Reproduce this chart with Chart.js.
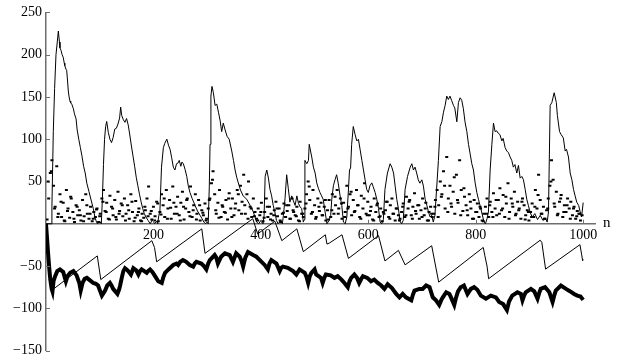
<!DOCTYPE html>
<html><head><meta charset="utf-8">
<script src="https://cdn.jsdelivr.net/npm/chart.js@4/dist/chart.umd.min.js"></script>
<style>html,body{margin:0;padding:0;background:#fff;}canvas{display:block;}</style>
</head><body>
<canvas id="c" width="632" height="363"></canvas>
<script>
// ---- data ----
const xTickVals = [200, 400, 600, 800, 1000];
const yTickVals = [-150, -100, -50, 50, 100, 150, 200, 250];
const xAxisLabel = "n";

const upperN = [0,10,11,13.6,16,18.6,21,23,25,26,28,30,32,34,35,37,38.5,40,41.5,43,44.7,46,48,51,53,56,58,61,64,67,70,73,76,80,84,88,91,94,96,100,103,105,107,109,111,113,116,119,122,125,128,131,134,137,139,141,144,147,150,153,156,159,162,165,168,171,174,177,180,183,186,190,194,198,202,206,208,210,212,215,218.5,221,225,228,231,234,237,240,243,246,248,251,253,255.7,259,262,265,268,272,277.5,282,286.8,290,294,297,300,302,304,305.4,307,309,311.6,314.7,318,321,324,327,330,333,337,341,345.8,349,352,355,358,362,367,373.7,380,386,392,396,400,404,406,408,411,414,417,420,423,426,429,432,436,440,442,445,448,451,454,457.5,460,463.7,467,470,473,476,479,481,482,485.5,488.6,490,494.7,497.8,501,504,507,510,513,516,519.6,523,527,530,532,535,538,541,544,547.5,550.6,553.7,557,560,563,565,567,569,572,575.4,578.6,581.6,584.7,588,591,594,597,600,603,606.5,609,612.7,615.8,619,622,625,628,631,635.6,640.6,643.7,647,650,653,656,659,662,665,668.5,673,678,681,684,687,690,693,696,699.6,702.6,705.8,709,712,715,718,721,724,727,730.5,733.7,737,740,743,746,749,752,755,758.5,761,764.8,767.8,771,774,777,780,783.4,786.5,789.6,792.7,795.7,798.9,802,805,808,811,815,818,821,823.6,826.8,830,833,836,839,842,845,848.6,851,854.7,857.9,861,864,867,870,873,876.4,879.5,882.7,885.8,888.8,892,895,898,901,905,910,915,920,925,930,933,935.4,938.5,941.7,946,950,952,956,959,963,966.5,969,972.6,975.8,979,982,985,988,991.6,994.4,997,1000];
const upperY = [0,0,20,109,160,200,215,228,215,208,205,200,197,190,187,183,181.5,170,157,150,145,143,141.5,136,130,124,111,100,90,80,68,60,48,38,28,18,8,2,0,3,0,30,70,100,115,121,108,100,96,102,112,113,118,125,138,128,123,120,124.5,117,105,92,80,68,55,45,35,26,18,12,8,4,0,5,0,3,0,10,14.5,67,90,95,100,93,88,78,67,63.6,71,72,75,68,73,71,64,56,44.5,37,30,21.7,15,10,6.5,2,0,2,0,44.5,94,151,162.5,155,140,141.5,132,122.6,109,119,112,103.5,100,86,75,63.6,55,48.4,40,33,29,21.7,14,2,0,4,0,10,56,63.6,54,40.7,33,21.7,14,4,0,3,0,10,30,58,42,25.6,33,28,21.7,33,24,20,18,2,5,75,71,75,94,79,67,60,48.4,42,37,33,29,14,0,4,10,29,45,52,58,48,33,21.7,2,0,8,40,63.6,66,94,115,105.5,98,100,88,75,63.6,52,40.7,37,45,48.4,44,37,29,18,2,0,5,40.7,60,71,67,60,44.5,29,18,3,0,4,40.7,56,67,71,63.6,67,60,52,48,52,44.5,29,21.7,14,8,10,2,10,40,75,115,121,132,140,151,147,151,146,140,137,120.6,143.5,149,146,136,120.6,109,94,82.6,71,63.6,48.4,37,29,21.7,14,3,0,6,14,63.6,94,119,109,110,107,105.5,98,101,90,86,84,79,75,67,70,60,69,54,56,52,40.7,29,21.7,14,8,12,5,10,4,6,2,14,140,143.5,155,143.5,128,109,105.5,101.6,86,88,79,60,52,40.7,33,25.6,21.7,14,8,25];

const dotN = [2,5,8,11,14,17,20,23,26,29,32,35,38,41,44,47,50,53,56,59,62,65,68,71,74,77,80,83,86,89,92,95,98,101,104,107,110,113,116,119,122,125,128,131,134,137,140,143,146,149,152,155,158,161,164,167,170,173,176,179,182,185,188,191,194,197,200,203,206,209,212,215,218,221,224,227,230,233,236,239,242,245,248,251,254,257,260,263,266,269,272,275,278,281,284,287,290,293,296,299,302,305,308,311,314,317,320,323,326,329,332,335,338,341,344,347,350,353,356,359,362,365,368,371,374,377,380,383,386,389,392,395,398,401,404,407,410,413,416,419,422,425,428,431,434,437,440,443,446,449,452,455,458,461,464,467,470,473,476,479,482,485,488,491,494,497,500,503,506,509,512,515,518,521,524,527,530,533,536,539,542,545,548,551,554,557,560,563,566,569,572,575,578,581,584,587,590,593,596,599,602,605,608,611,614,617,620,623,626,629,632,635,638,641,644,647,650,653,656,659,662,665,668,671,674,677,680,683,686,689,692,695,698,701,704,707,710,713,716,719,722,725,728,731,734,737,740,743,746,749,752,755,758,761,764,767,770,773,776,779,782,785,788,791,794,797,800,803,806,809,812,815,818,821,824,827,830,833,836,839,842,845,848,851,854,857,860,863,866,869,872,875,878,881,884,887,890,893,896,899,902,905,908,911,914,917,920,923,926,929,932,935,938,941,944,947,950,953,956,959,962,965,968,971,974,977,980,983,986,989,992,995,998];
const dotY = [5,30,60,75,45,20,68,12,35,8,
25,3,40,18,7,30,14,2,22,10,
16,4,28,9,35,12,6,20,3,14,
8,18,2,12,30,40,15,25,6,33,
20,10,28,5,38,15,24,9,30,12,
22,6,35,14,3,27,10,18,4,12,
7,16,30,44,12,5,20,9,26,3,
14,35,22,8,40,18,28,6,44,12,
20,32,10,25,38,5,18,30,14,44,
8,22,35,12,28,4,16,10,24,6,
18,30,48,62,35,12,25,40,8,20,
14,28,5,36,18,30,10,24,40,16,
45,26,58,12,35,50,20,8,30,14,
6,18,10,25,3,14,30,8,20,12,
4,16,26,9,18,2,12,24,8,15,
22,6,30,14,10,20,4,26,12,8,
18,35,50,28,12,40,22,8,30,15,
25,10,20,4,16,28,8,35,12,22,
40,18,30,6,25,14,45,20,35,10,
28,15,40,22,8,33,18,48,12,26,
10,20,5,30,14,24,8,18,3,12,
16,26,8,22,30,12,4,18,10,6,
14,24,8,32,18,28,10,20,36,12,
22,6,16,30,10,25,4,14,20,8,
12,28,40,22,50,35,62,18,79,30,
45,20,38,12,58,25,75,40,15,32,
22,10,35,18,6,28,14,24,8,18,
4,12,20,30,8,26,14,36,18,10,
28,42,16,34,8,24,48,14,30,20,
38,12,26,18,6,30,22,10,16,4,
14,24,8,40,18,58,28,12,20,6,
16,30,45,75,52,20,38,12,26,34,
8,22,14,30,18,26,10,20,6,15,
12,4,10];

const dotN2 = [4,10,16,22,28,34,40,46,52,58,64,70,76,82,88,94,100,106,112,118,124,130,136,142,148,154,160,166,172,178,184,190,196,202,208,214,220,226,232,238,244,250,256,262,268,274,280,286,292,298,304,310,316,322,328,334,340,346,352,358,364,370,376,382,388,394,400,406,412,418,424,430,436,442,448,454,460,466,472,478,484,490,496,502,508,514,520,526,532,538,544,550,556,562,568,574,580,586,592,598,604,610,616,622,628,634,640,646,652,658,664,670,676,682,688,694,700,706,712,718,724,730,736,742,748,754,760,766,772,778,784,790,796,802,808,814,820,826,832,838,844,850,856,862,868,874,880,886,892,898,904,910,916,922,928,934,940,946,952,958,964,970,976,982,988,994];
const dotY2 = [50,62,18,8,26,4,15,32,6,20,
10,3,22,12,6,17,9,26,14,5,
18,8,12,22,4,16,26,7,14,3,
20,9,15,4,24,11,30,6,19,25,
12,4,20,28,9,16,5,22,13,4,
28,52,16,7,22,13,30,8,18,35,
12,22,6,18,9,4,14,7,20,5,
10,18,4,13,22,6,16,9,3,12,
24,44,14,6,20,10,28,5,16,32,
12,24,8,18,38,14,22,6,30,10,
15,4,22,9,14,26,6,12,18,4,
20,10,26,6,15,22,8,18,4,12,
20,8,32,45,14,24,55,28,10,42,
16,26,6,14,20,3,12,22,8,28,
12,18,32,6,24,10,16,26,5,14,
8,20,34,12,6,18,50,24,10,30,
14,22,6,18,9,12];

const sawN = [0,10,95.5,102,197,202,206,290,296,385,394,426,439,467,479,520,523,527,551,563,619,631,656,668.5,718,731,814,817,821,824,920,923,930,994,997,999,1000];
const sawY = [0,-79,-38,-66,-20,-28,-45,-6,-35,6,-12,3,-20,-6,-33,-13,-24,-23,-13,-41,-14,-44,-31.5,-48.6,-26,-69,-28,-38,-50,-65,-19.4,-22,-53.6,-24.7,-36,-43.7,-42];

const lowN = [0,2,4,6,8,10.5,12,14,17,21,26,32,37,40,45,51,57,62,64.6,68,72,76,82,88,93,97,101,104,107,110,114,119,122,125,129,133,136,138,141,144,147,150,153,158,162.6,168,172,175,178,183,187.5,190,193.7,198,203,209,215.5,218,221.6,228,237,243,246,250,255,261,267.6,274,277,280,289,294,298.5,302,305,314,317,320,326,333,342,348,354,360.6,364,367,371,376,385.5,391.6,398,407,413,416,419.5,429,435,438,441,450,460,466,472,481.7,485,488,491,494,500,503,512,515,518,521,530,537,543,550,555.6,561.8,565,568,574,579,583,587,590,598,605,611,617.6,624,630,636,644,652,658,664,670,680,683,686,695,701,707.6,714,720,726,732,736,738.7,745,751,756,760,763,767,772,778,784.6,791,797,803,809.5,819,828,837.4,843.6,851,858,862,868,877.6,884,887,890,893,902.6,909,915,918,921,929,937,943,946,949,958.5,968,976,983,989,995,1000];
const lowY = [0,-18,-36,-52,-66,-77,-80,-68,-62,-56,-54,-57,-68,-62,-58,-56,-61,-70,-79,-70,-65,-64,-67,-70,-71,-73,-80,-85,-82,-79,-73,-70,-73,-77,-80,-83,-78,-73,-64,-56,-52.5,-54,-56,-60,-52.5,-55,-60,-56,-54,-56,-58,-56,-54,-57,-62,-68,-70,-64,-58,-54,-48.7,-47,-48.7,-45,-43,-45,-48.7,-50.6,-47,-45,-47,-50,-54,-47,-43,-37,-40,-47,-39,-35,-37,-45,-35,-39,-44,-50.6,-40,-33.4,-37,-39,-43,-48.7,-54,-47,-43,-47,-56,-52,-50.6,-52,-56,-60,-54,-58,-63,-70,-62,-58,-54,-60,-64,-70,-64,-60,-61,-64,-62,-66,-70,-75,-68,-64,-60,-64,-70,-65,-62,-64,-68,-66,-70,-73,-77,-71.5,-76,-83,-87,-83,-87,-90.5,-84,-79,-77,-77,-73,-75,-87,-90.5,-96,-90,-87,-81,-83,-90,-96,-88,-80,-75,-73,-83,-77,-75,-78,-85,-88.6,-85,-87,-92.5,-95,-102,-92,-85,-81,-83,-90.5,-85,-81,-77,-80,-88.6,-82,-77,-75,-81,-92.5,-85,-79,-73,-77,-80,-83,-85,-86,-90];

function pts(xs, ys){ return xs.map((x,i)=>({x:x, y:ys[i]})); }

const FONT = '"Liberation Serif", "DejaVu Serif", serif';
const AXIS_COLOR = '#6e6e6e';

const axisDeco = {
  id:'axisDeco',
  afterDraw(chart){
    const ctx = chart.ctx, xs = chart.scales.x, ys = chart.scales.y;
    const y0 = ys.getPixelForValue(0), left = chart.chartArea.left;
    ctx.save();
    ctx.strokeStyle = AXIS_COLOR; ctx.lineWidth = 1;
    yTickVals.forEach(v=>{ const p = Math.round(ys.getPixelForValue(v))+0.5; ctx.beginPath(); ctx.moveTo(left, p); ctx.lineTo(left+4, p); ctx.stroke(); });
    xTickVals.forEach(v=>{ const p = Math.round(xs.getPixelForValue(v))+0.5; ctx.beginPath(); ctx.moveTo(p, y0); ctx.lineTo(p, y0-4); ctx.stroke(); });
    ctx.fillStyle = '#000'; ctx.font = '15px ' + FONT; ctx.textAlign='left'; ctx.textBaseline='middle';
    ctx.fillText(xAxisLabel, chart.chartArea.right + 8, y0 - 1);
    ctx.restore();
  }
};

const dotStyle = { showLine:false, pointStyle:'line', pointRadius:1.5, borderColor:'#000', pointBorderWidth:2, backgroundColor:'#000' };

new Chart(document.getElementById('c'), {
  type:'scatter',
  data:{ datasets:[
    { data: pts(upperN, upperY), showLine:true, borderColor:'#000', borderWidth:1, pointRadius:0, order:3 },
    Object.assign({ data: pts(dotN, dotY), order:1 }, dotStyle),
    Object.assign({ data: pts(dotN2, dotY2), order:2 }, dotStyle),
    { data: pts(sawN, sawY), showLine:true, borderColor:'#000', borderWidth:1, pointRadius:0, order:4 },
    { data: pts(lowN, lowY), showLine:true, borderColor:'#000', borderWidth:4, pointRadius:0, order:5 }
  ]},
  options:{
    responsive:false, animation:false, devicePixelRatio:1,
    layout:{ padding:{ left:0, right:37, top:6, bottom:6 } },
    plugins:{ legend:{display:false}, tooltip:{enabled:false} },
    scales:{
      x:{ type:'linear', min:0, max:1022, position:{ y:0 },
          grid:{ display:false, drawTicks:false },
          border:{ display:true, color:AXIS_COLOR, width:1.5 },
          afterBuildTicks(s){ s.ticks = xTickVals.map(v=>({value:v})); },
          ticks:{ color:'#000', font:{ family:FONT, size:14 }, padding:3, maxRotation:0, autoSkip:false,
                  callback:(v)=> String(v) } },
      y:{ type:'linear', min:-150, max:250,
          grid:{ display:false, drawTicks:false },
          border:{ display:true, color:AXIS_COLOR, width:1.5 },
          afterBuildTicks(s){ s.ticks = yTickVals.map(v=>({value:v})); },
          afterFit(s){ s.width = 46; },
          ticks:{ color:'#000', font:{ family:FONT, size:14 }, padding:4, autoSkip:false,
                  callback:(v)=> v<0 ? '\u2212' + Math.abs(v) : String(v) } }
    }
  },
  plugins:[axisDeco]
});
</script>
</body></html>
